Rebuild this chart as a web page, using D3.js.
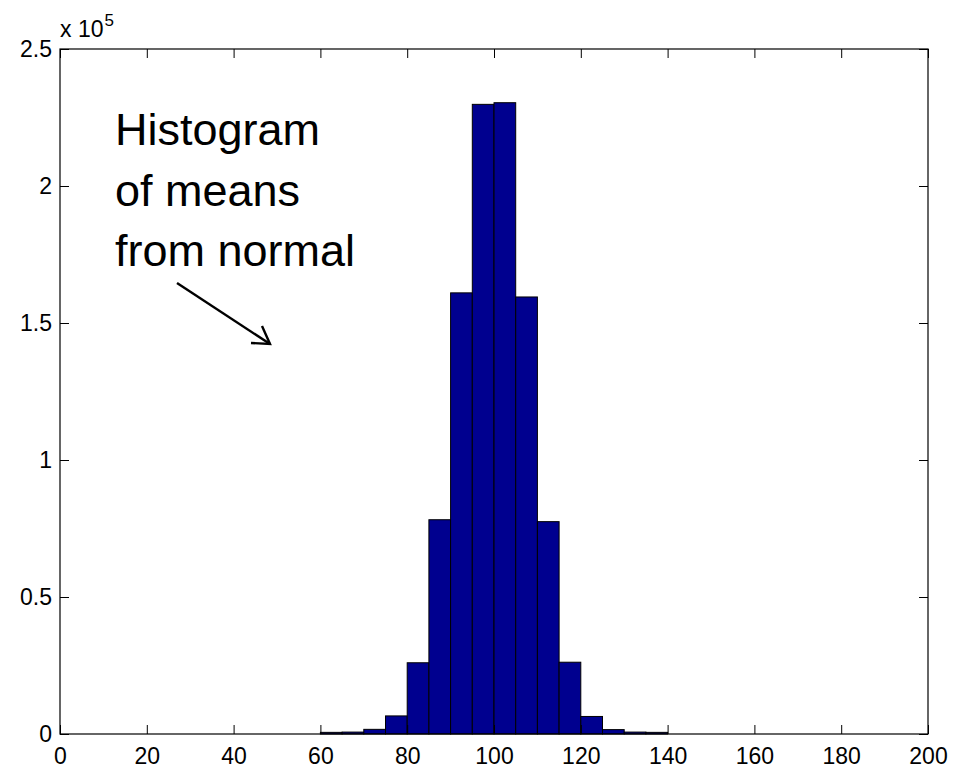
<!DOCTYPE html>
<html>
<head>
<meta charset="utf-8">
<script src="https://cdn.jsdelivr.net/npm/d3@7"></script>
<style>
  body { margin: 0; background: #fff; }
  svg { display: block; }
</style>
</head>
<body>
<svg></svg>
<script>
// bin left edges (width 5) and counts
const binStarts = [60, 65, 70, 75, 80, 85, 90, 95, 100, 105, 110, 115, 120, 125, 130, 135];
const binWidth = 5;
const counts = [600, 700, 1700, 6600, 26000, 78200, 161000, 229800, 230400, 159500, 77500, 26200, 6400, 1600, 700, 600];

const xTicks = [0, 20, 40, 60, 80, 100, 120, 140, 160, 180, 200];
const yTicks = [0, 50000, 100000, 150000, 200000, 250000];
const yTickLabels = ["0", "0.5", "1", "1.5", "2", "2.5"];
const noteLines = ["Histogram", "of means", "from normal"];

const width = 955, height = 770;
const margin = ({ top: 49, right: 27, bottom: 36, left: 60 });
const font = "'Liberation Sans', Arial, sans-serif";

const svg = d3.select("svg")
    .attr("width", width)
    .attr("height", height);

const x = d3.scaleLinear()
    .domain([0, 200])
    .range([margin.left, width - margin.right]);

const y = d3.scaleLinear()
    .domain([0, 250000])
    .range([height - margin.bottom, margin.top]);

const data = binStarts.map((b, i) => ({ x0: b, x1: b + binWidth, n: counts[i] }));

// bars
svg.append("g")
    .selectAll("rect").data(data).enter().append("rect")
    .attr("x", d => x(d.x0))
    .attr("y", d => y(d.n))
    .attr("width", d => x(d.x1) - x(d.x0))
    .attr("height", d => y(0) - y(d.n))
    .attr("fill", "#00008f")
    .attr("stroke", "#000")
    .attr("stroke-width", 1);

const tick = 9;

const styleAxis = g => {
    g.select(".domain").remove();
    g.selectAll(".tick line").attr("stroke", "#000");
    g.selectAll("text")
        .attr("fill", "#000")
        .attr("font-family", font)
        .attr("font-size", 23);
};

// bottom axis with labels
svg.append("g")
    .attr("transform", `translate(0,${y(0)})`)
    .call(d3.axisBottom(x).tickValues(xTicks).tickSizeInner(-tick).tickSizeOuter(0).tickPadding(14))
    .call(styleAxis);

// top axis, ticks only
svg.append("g")
    .attr("transform", `translate(0,${y(250000)})`)
    .call(d3.axisTop(x).tickValues(xTicks).tickSizeInner(-tick).tickSizeOuter(0).tickFormat(""))
    .call(styleAxis);

// left axis with labels
svg.append("g")
    .attr("transform", `translate(${x(0)},0)`)
    .call(d3.axisLeft(y).tickValues(yTicks).tickSizeInner(-tick).tickSizeOuter(0).tickPadding(8)
        .tickFormat((d, i) => yTickLabels[i]))
    .call(styleAxis);

// right axis, ticks only
svg.append("g")
    .attr("transform", `translate(${x(200)},0)`)
    .call(d3.axisRight(y).tickValues(yTicks).tickSizeInner(-tick).tickSizeOuter(0).tickFormat(""))
    .call(styleAxis);

// frame
svg.append("rect")
    .attr("x", x(0))
    .attr("y", y(250000))
    .attr("width", x(200) - x(0))
    .attr("height", y(0) - y(250000))
    .attr("fill", "none")
    .attr("stroke", "#000")
    .attr("stroke-width", 1.2);

// exponent label
const expo = svg.append("text")
    .attr("x", x(0))
    .attr("y", 37)
    .attr("font-family", font)
    .attr("font-size", 23)
    .attr("fill", "#000");
expo.append("tspan").text("x 10");
expo.append("tspan")
    .attr("font-size", 17)
    .attr("dy", -11)
    .attr("dx", 1)
    .text("5");

// annotation
svg.append("g")
    .selectAll("text").data(noteLines).enter().append("text")
    .attr("x", 115)
    .attr("y", (d, i) => 145 + i * 60.5)
    .attr("font-family", font)
    .attr("font-size", 45)
    .attr("fill", "#000")
    .text(d => d);

// arrow
const arrow = svg.append("g")
    .attr("stroke", "#000")
    .attr("stroke-width", 2.4)
    .attr("fill", "none");
arrow.append("line")
    .attr("x1", 177).attr("y1", 283)
    .attr("x2", 270).attr("y2", 344);
arrow.append("polyline")
    .attr("points", "262,326 270,344 251,343");
</script>
</body>
</html>
